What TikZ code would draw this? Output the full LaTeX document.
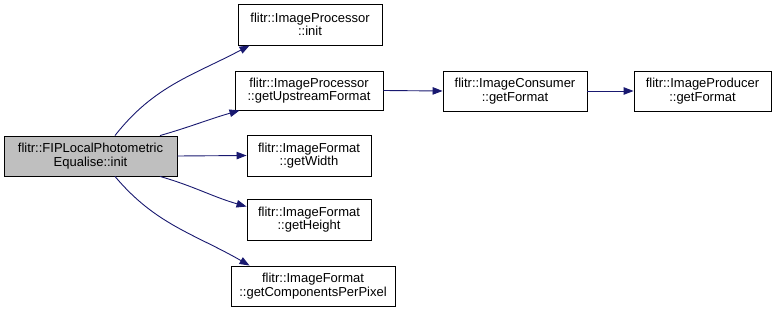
\documentclass[tikz,border=0pt]{standalone}
\usepackage{fontspec}
\setmainfont{Liberation Sans}
\usetikzlibrary{arrows.meta,calc}
\definecolor{edgeblue}{HTML}{191970}
\definecolor{rootfill}{HTML}{BFBFBF}
\begin{document}
\begin{tikzpicture}[x=1pt,y=-1pt,
  fn/.style={draw=black,line width=0.9pt,fill=white,inner sep=0pt,align=center,
    font=\fontsize{13}{13.6}\selectfont,text=black},
  rootfn/.style={fn,fill=rootfill},
  call/.style={draw=edgeblue,line width=0.9pt,
    -{Triangle[length=10pt,width=7.5pt,fill=edgeblue]}}]
\useasboundingbox (0,0) rectangle (776,312);
% caller
\node[rootfn,minimum width=173pt,minimum height=40pt] (root) at (90.5,156)
  {flitr::FIPLocalPhotometric\\Equalise::init};
% callees
\node[fn,minimum width=144pt,minimum height=41pt] (init) at (310,24.5)
  {flitr::ImageProcessor\\::init};
\node[fn,minimum width=148pt,minimum height=39pt] (ups) at (309,90.5)
  {flitr::ImageProcessor\\::getUpstreamFormat};
\node[fn,minimum width=124pt,minimum height=41pt] (wid) at (309,155.5)
  {flitr::ImageFormat\\::getWidth};
\node[fn,minimum width=124pt,minimum height=41pt] (hei) at (309,219.5)
  {flitr::ImageFormat\\::getHeight};
\node[fn,minimum width=164pt,minimum height=40pt] (cpp) at (313,286)
  {flitr::ImageFormat\\::getComponentsPerPixel};
\node[fn,minimum width=144pt,minimum height=40pt] (cons) at (515,91)
  {flitr::ImageConsumer\\::getFormat};
\node[fn,minimum width=137pt,minimum height=40pt] (prod) at (702.5,91)
  {flitr::ImageProducer\\::getFormat};
% call edges
\draw[call] ([xshift=24.5pt]root.north) to[out=52,in=208] ([xshift=12pt]init.south west);
\draw[call] ([xshift=69.5pt]root.north) to[out=16,in=196] ([xshift=5pt]ups.south west);
\draw[call] (root.east) -- (wid.west);
\draw[call] ([xshift=69.5pt]root.south) to[out=-16,in=164] ([yshift=-8pt]hei.north west);
\draw[call] ([xshift=24.5pt]root.south) to[out=-50,in=150] ([xshift=19pt]cpp.north west);
\draw[call] (ups.east) -- (cons.west);
\draw[call] (cons.east) -- (prod.west);
\end{tikzpicture}
\end{document}
